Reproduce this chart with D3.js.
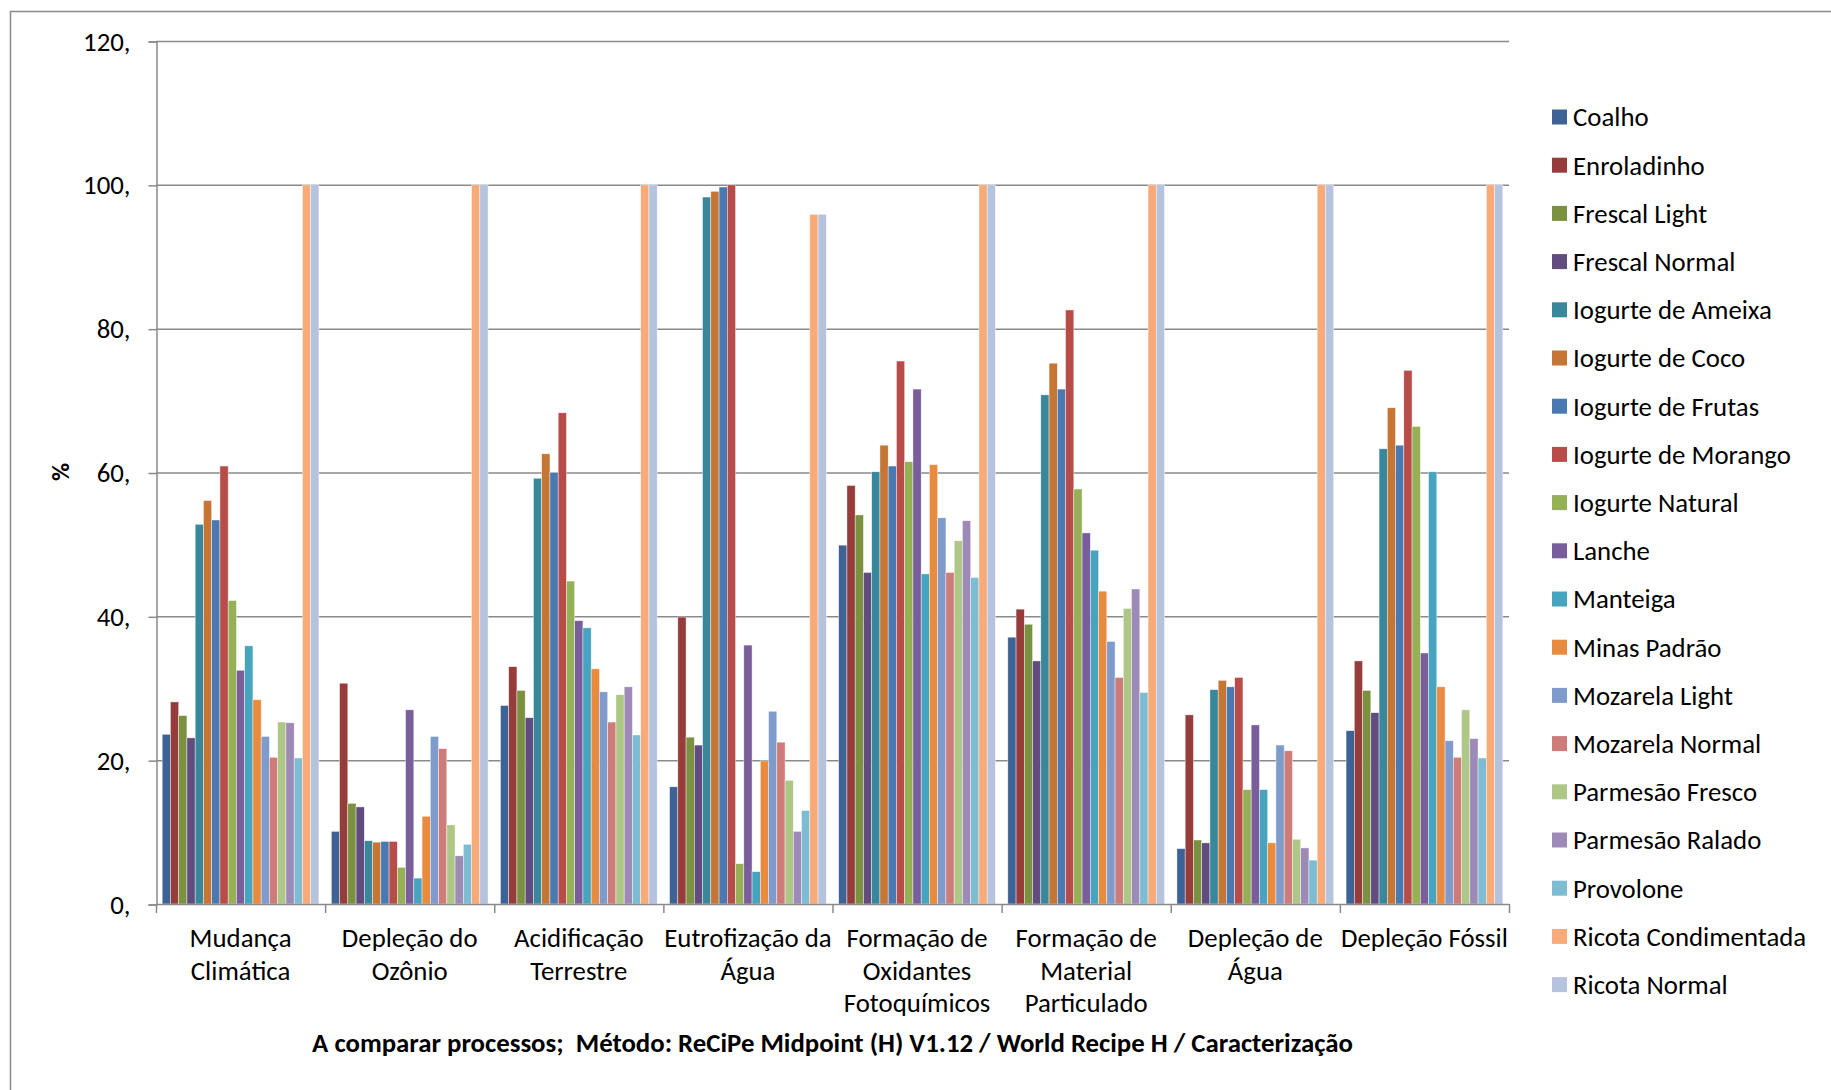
<!DOCTYPE html>
<html>
<head>
<meta charset="utf-8">
<script src="https://cdn.jsdelivr.net/npm/d3@7"></script>
<style>
  html, body { margin: 0; padding: 0; background: #fff; }
  svg { display: block; font-family: Carlito, Calibri, Lato, "Open Sans", sans-serif; }
</style>
</head>
<body>
<svg id="chart" width="1831" height="1090"></svg>
<script>
// ---- Data ----
const categories = [
  ["Mudança", "Climática"],
  ["Depleção do", "Ozônio"],
  ["Acidificação", "Terrestre"],
  ["Eutrofização da", "Água"],
  ["Formação de", "Oxidantes", "Fotoquímicos"],
  ["Formação de", "Material", "Particulado"],
  ["Depleção de", "Água"],
  ["Depleção Fóssil"]
];
const seriesNames = [
  "Coalho", "Enroladinho", "Frescal Light", "Frescal Normal",
  "Iogurte de Ameixa", "Iogurte de Coco", "Iogurte de Frutas", "Iogurte de Morango",
  "Iogurte Natural", "Lanche", "Manteiga", "Minas Padrão", "Mozarela Light",
  "Mozarela Normal", "Parmesão Fresco", "Parmesão Ralado", "Provolone",
  "Ricota Condimentada", "Ricota Normal"
];
const coalho        = [23.6, 10.1, 27.6, 16.3, 49.9, 37.1, 7.7, 24.1];
const enroladinho   = [28.1, 30.7, 33.0, 39.9, 58.2, 41.0, 26.3, 33.8];
const frescalLight  = [26.2, 14.0, 29.7, 23.2, 54.1, 38.9, 8.9, 29.7];
const frescalNormal = [23.1, 13.5, 25.9, 22.1, 46.1, 33.8, 8.5, 26.6];
const iogAmeixa     = [52.8, 8.8, 59.2, 98.3, 60.1, 70.8, 29.8, 63.3];
const iogCoco       = [56.1, 8.6, 62.6, 99.1, 63.8, 75.2, 31.1, 69.0];
const iogFrutas     = [53.4, 8.7, 60.0, 99.7, 60.9, 71.6, 30.2, 63.8];
const iogMorango    = [60.9, 8.7, 68.3, 100, 75.5, 82.6, 31.5, 74.2];
const iogNatural    = [42.2, 5.1, 44.9, 5.6, 61.5, 57.7, 15.9, 66.4];
const lanche        = [32.5, 27.0, 39.4, 36.0, 71.6, 51.6, 24.9, 34.9];
const manteiga      = [35.9, 3.6, 38.4, 4.5, 45.9, 49.2, 15.9, 60.1];
const minasPadrao   = [28.4, 12.2, 32.7, 19.9, 61.1, 43.5, 8.5, 30.2];
const mozLight      = [23.3, 23.3, 29.5, 26.8, 53.7, 36.5, 22.1, 22.7];
const mozNormal     = [20.4, 21.6, 25.3, 22.5, 46.1, 31.5, 21.3, 20.4];
const parmFresco    = [25.3, 11.0, 29.1, 17.2, 50.5, 41.1, 9.0, 27.0];
const parmRalado    = [25.2, 6.7, 30.2, 10.1, 53.3, 43.8, 7.8, 23.0];
const provolone     = [20.3, 8.3, 23.5, 13.0, 45.4, 29.4, 6.1, 20.3];
const ricotaCond    = [100, 100, 100, 95.9, 100, 100, 100, 100];
const ricotaNormal  = [100, 100, 100, 95.9, 100, 100, 100, 100];
const yTicks = [0, 20, 40, 60, 80, 100, 120];
const yTickLabels = ["0,", "20,", "40,", "60,", "80,", "100,", "120,"];
const yLabel = "%";
const xTitle = "A comparar processos;  Método: ReCiPe Midpoint (H) V1.12 / World Recipe H / Caracterização";

const seriesValues = [coalho, enroladinho, frescalLight, frescalNormal, iogAmeixa, iogCoco,
  iogFrutas, iogMorango, iogNatural, lanche, manteiga, minasPadrao, mozLight, mozNormal,
  parmFresco, parmRalado, provolone, ricotaCond, ricotaNormal];
const colors = ["#3D6396", "#963C3A", "#7A9140", "#624B7E", "#38879A", "#C57534",
  "#4A79B2", "#B84C49", "#95B055", "#795E9B", "#47A4BF", "#E98B3F", "#7F9BCB",
  "#CE7C7A", "#AFC786", "#9E8AB6", "#7DBCD2", "#F8AB78", "#B5C3DF"];

(function () {
// ---- Layout ----
const svg = d3.select("#chart");
const pLeft = 156, pRight = 1509, pTop = 41, pBottom = 904;
const gridColor = "#8a8a8a";
const fs = 26.8;

// outer frame (extends past right/bottom of the picture)
svg.append("rect").attr("x", 10.5).attr("y", 11.5).attr("width", 1900).attr("height", 1200)
  .attr("fill", "none").attr("stroke", gridColor).attr("stroke-width", 1.5);

const x0 = d3.scaleBand().domain(d3.range(categories.length)).range([pLeft, pRight]).padding(0);
const step = x0.bandwidth();
const barW = step / (seriesNames.length + 1.5);
const x1 = d3.scaleBand().domain(d3.range(seriesNames.length))
  .range([barW * 0.75, barW * 0.75 + barW * seriesNames.length]).padding(0);
const y = d3.scaleLinear().domain([0, 120]).range([pBottom, pTop]);

// gridlines
svg.append("g").selectAll("line").data(yTicks.filter(d => d > 0)).join("line")
  .attr("x1", pLeft).attr("x2", pRight)
  .attr("y1", d => y(d) + 0.5).attr("y2", d => y(d) + 0.5)
  .attr("stroke", gridColor).attr("stroke-width", 1.5);

// bars
const gBars = svg.append("g");
seriesValues.forEach((vals, si) => {
  gBars.append("g").selectAll("rect").data(vals).join("rect")
    .attr("x", (d, ci) => x0(ci) + x1(si))
    .attr("width", x1.bandwidth())
    .attr("y", d => y(d))
    .attr("height", d => y(0) - y(d))
    .attr("fill", colors[si])
    .attr("stroke", "#ffffff").attr("stroke-width", 0.6).attr("stroke-opacity", 0.7);
});

// y axis
const yAxis = d3.axisLeft(y).tickValues(yTicks).tickSize(8).tickPadding(18)
  .tickFormat((d, i) => yTickLabels[i]);
const gy = svg.append("g").attr("transform", `translate(${pLeft + 0.5},0.5)`).call(yAxis);
gy.select(".domain").attr("stroke", gridColor).attr("stroke-width", 1.5);
gy.selectAll(".tick line").attr("stroke", gridColor).attr("stroke-width", 1.5);
gy.selectAll(".tick text").attr("font-size", fs).attr("fill", "#000")
  .attr("font-family", "Carlito, Calibri, Lato, sans-serif");

// x axis with ticks at category boundaries
const xLine = svg.append("g");
xLine.append("line").attr("x1", pLeft).attr("x2", pRight).attr("y1", pBottom + 0.5).attr("y2", pBottom + 0.5)
  .attr("stroke", gridColor).attr("stroke-width", 1.5);
xLine.selectAll("line.tk").data(d3.range(categories.length + 1)).join("line").attr("class", "tk")
  .attr("x1", i => (i < categories.length ? x0(i) : pRight) + 0.5)
  .attr("x2", i => (i < categories.length ? x0(i) : pRight) + 0.5)
  .attr("y1", pBottom).attr("y2", pBottom + 9)
  .attr("stroke", gridColor).attr("stroke-width", 1.5);

// category labels
const gCat = svg.append("g");
categories.forEach((lines, ci) => {
  const t = gCat.append("text").attr("text-anchor", "middle").attr("font-size", fs).attr("fill", "#000");
  lines.forEach((ln, li) => {
    t.append("tspan").attr("x", x0(ci) + step / 2).attr("y", 947 + li * 32.6).text(ln);
  });
});

// x title (keep the double space)
svg.append("text").attr("x", (pLeft + pRight) / 2).attr("y", 1052).attr("text-anchor", "middle")
  .style("white-space", "pre").attr("xml:space", "preserve")
  .attr("font-size", fs).attr("font-weight", "bold").attr("fill", "#000").text(xTitle);

// y label
svg.append("text").attr("transform", "translate(69,472) rotate(-90)").attr("text-anchor", "middle")
  .attr("font-size", 25).attr("font-weight", "bold").attr("fill", "#000").text(yLabel);

// legend
const legend = svg.append("g").attr("transform", "translate(1552,117)");
const items = legend.selectAll("g").data(seriesNames).join("g")
  .attr("transform", (d, i) => `translate(0,${i * 48.2})`);
items.append("rect").attr("x", 0).attr("y", -7.5).attr("width", 15).attr("height", 15)
  .attr("fill", (d, i) => colors[i]);
items.append("text").attr("x", 21).attr("y", 0).attr("dy", "0.35em").attr("font-size", fs)
  .attr("fill", "#000").text(d => d);
})();
</script>
</body>
</html>
